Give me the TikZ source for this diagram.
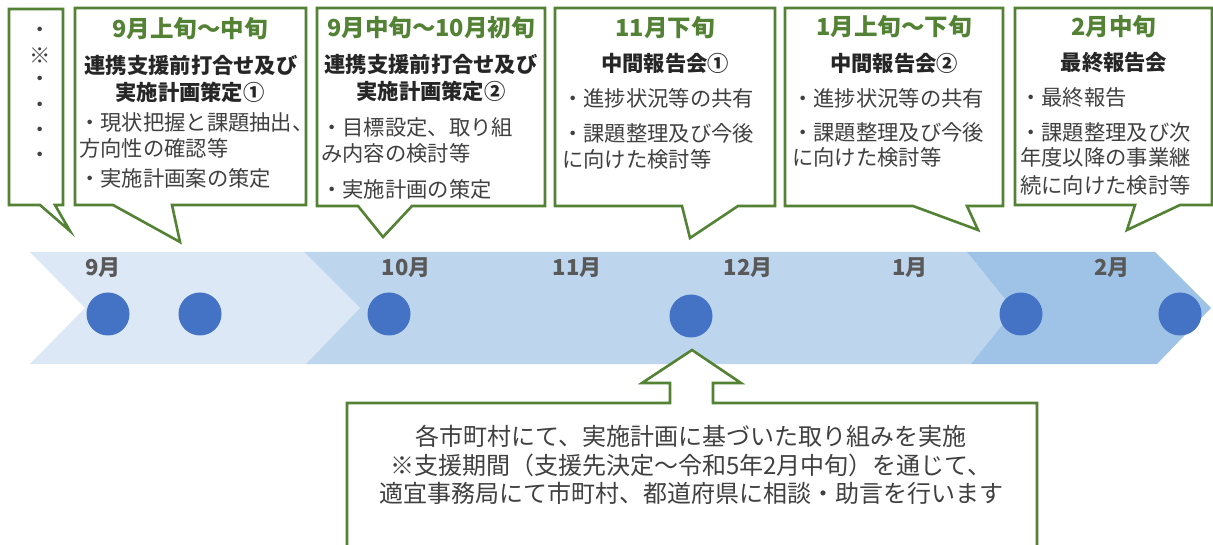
\documentclass[tikz,border=0pt]{standalone}
\usepackage{fontspec}
\setmainfont{Noto Sans CJK JP}
\definecolor{cgreen}{HTML}{548235}
\definecolor{chevA}{HTML}{DCE8F5}
\definecolor{chevB}{HTML}{BDD6EE}
\definecolor{chevC}{HTML}{9FC3E6}
\definecolor{dotblue}{HTML}{4472C4}
\definecolor{monthgray}{HTML}{595959}
\definecolor{bodygray}{HTML}{404040}
\tikzset{
  callout/.style={draw=cgreen, line width=2.6pt, fill=white, line join=miter},
  headt/.style={font=\fontsize{23.5}{23.5}\selectfont\bfseries, text=cgreen, inner sep=0},
  ttlt/.style={font=\fontsize{21.3}{21.3}\selectfont\bfseries, text=black!85, inner sep=0},
  bodyt/.style={font=\fontsize{21.3}{21.3}\selectfont, text=bodygray, inner sep=0, anchor=west},
  montht/.style={font=\fontsize{22}{22}\selectfont\bfseries, text=monthgray, inner sep=0},
  dotc/.style={circle, fill=dotblue, minimum size=43pt, inner sep=0},
  bottomt/.style={font=\fontsize{24}{28.5}\selectfont, text=bodygray, inner sep=0, align=center}
}
\begin{document}
\begin{tikzpicture}[x=1pt,y=-1pt]
\useasboundingbox (0,0) rectangle (1213,545);
\clip (0,0) rectangle (1213,545);
\fill[white] (0,0) rectangle (1213,545);
% chevrons
\fill[chevA] (30,252) -- (304,252) -- (360,308) -- (306,364) -- (30,364) -- (85,308) -- cycle;
\fill[chevB] (304,252) -- (967,252) -- (1014,310) -- (971,364) -- (306,364) -- (360,308) -- cycle;
\fill[chevC] (967,252) -- (1155,252) -- (1211,308) -- (1157,364) -- (971,364) -- (1014,310) -- cycle;
% month labels
\node[montht] (m9) at (103,268) {9月};
\node[montht] (m10) at (406,268) {10月};
\node[montht] (m11) at (577,268) {11月};
\node[montht] (m12) at (748,268) {12月};
\node[montht] (m1) at (910,268) {1月};
\node[montht] (m2) at (1112,268) {2月};
% dots
\node[dotc] (d1) at (108,314) {};
\node[dotc] (d2) at (200,314) {};
\node[dotc] (d3) at (389,314) {};
\node[dotc] (d4) at (691,316) {};
\node[dotc] (d5) at (1021,314) {};
\node[dotc] (d6) at (1180,314) {};
% callouts
\draw[callout] (9,9) -- (63,9) -- (63,205) -- (55,205) -- (70,231) -- (40,205) -- (9,205) -- cycle;
\draw[callout] (75,8) -- (306,8) -- (306,205) -- (172,205) -- (180,242) -- (113,205) -- (75,205) -- cycle;
\draw[callout] (317,8) -- (545,8) -- (545,206) -- (412,206) -- (383,237) -- (358,206) -- (317,206) -- cycle;
\draw[callout] (555,8) -- (775,8) -- (775,206) -- (738,206) -- (690,238) -- (682,206) -- (555,206) -- cycle;
\draw[callout] (785,8) -- (1003,8) -- (1003,206) -- (967,206) -- (978,230) -- (913,206) -- (785,206) -- cycle;
\draw[callout] (1015,8) -- (1212,8) -- (1212,205) -- (1180,205) -- (1127,230) -- (1135,205) -- (1015,205) -- cycle;
% bottom callout
\draw[callout] (347,560) -- (347,403) -- (670,403) -- (670,383) -- (642,383) -- (692,350) -- (741,383) -- (713,383) -- (713,403) -- (1037,403) -- (1037,560);
% box 0
\node[bodyt, anchor=center] (c0a) at (40,32) {・};
\node[bodyt, anchor=center] (c0b) at (40,56) {※};
\node[bodyt, anchor=center] (c0c) at (40,81) {・};
\node[bodyt, anchor=center] (c0d) at (40,107) {・};
\node[bodyt, anchor=center] (c0e) at (40,132) {・};
\node[bodyt, anchor=center] (c0f) at (40,157) {・};
% box 1
\node[headt] (h1) at (190,29) {9月上旬～中旬};
\node[ttlt] (t1a) at (191,65) {連携支援前打合せ及び};
\node[ttlt] (t1b) at (190,92) {実施計画策定①};
\node[bodyt] (b1a) at (79,122) {・現状把握と課題抽出、};
\node[bodyt] (b1b) at (79,148) {方向性の確認等};
\node[bodyt] (b1c) at (79,178) {・実施計画案の策定};
% box 2
\node[headt] (h2) at (431,28) {9月中旬～10月初旬};
\node[ttlt] (t2a) at (431,64) {連携支援前打合せ及び};
\node[ttlt] (t2b) at (431,91) {実施計画策定②};
\node[bodyt] (b2a) at (321,127) {・目標設定、取り組};
\node[bodyt] (b2b) at (321,153) {み内容の検討等};
\node[bodyt] (b2c) at (321,189) {・実施計画の策定};
% box 3
\node[headt] (h3) at (665,28) {11月下旬};
\node[ttlt] (t3) at (665,63) {中間報告会①};
\node[bodyt] (b3a) at (562,98) {・進捗状況等の共有};
\node[bodyt] (b3b) at (562,133) {・課題整理及び今後};
\node[bodyt] (b3c) at (562,159) {に向けた検討等};
% box 4
\node[headt] (h4) at (894,27) {1月上旬～下旬};
\node[ttlt] (t4) at (894,63) {中間報告会②};
\node[bodyt] (b4a) at (792,98) {・進捗状況等の共有};
\node[bodyt] (b4b) at (792,132) {・課題整理及び今後};
\node[bodyt] (b4c) at (792,157) {に向けた検討等};
% box 5
\node[headt] (h5) at (1114,27) {2月中旬};
\node[ttlt] (t5) at (1114,63) {最終報告会};
\node[bodyt] (b5a) at (1020,98) {・最終報告};
\node[bodyt] (b5b) at (1020,132) {・課題整理及び次};
\node[bodyt] (b5c) at (1020,157) {年度以降の事業継};
\node[bodyt] (b5d) at (1020,185) {続に向けた検討等};
% bottom text
\node[bottomt] (bt) at (691,465) {各市町村にて、実施計画に基づいた取り組みを実施\\※支援期間（支援先決定～令和5年2月中旬）を通じて、\\適宜事務局にて市町村、都道府県に相談・助言を行います};
\end{tikzpicture}
\end{document}
